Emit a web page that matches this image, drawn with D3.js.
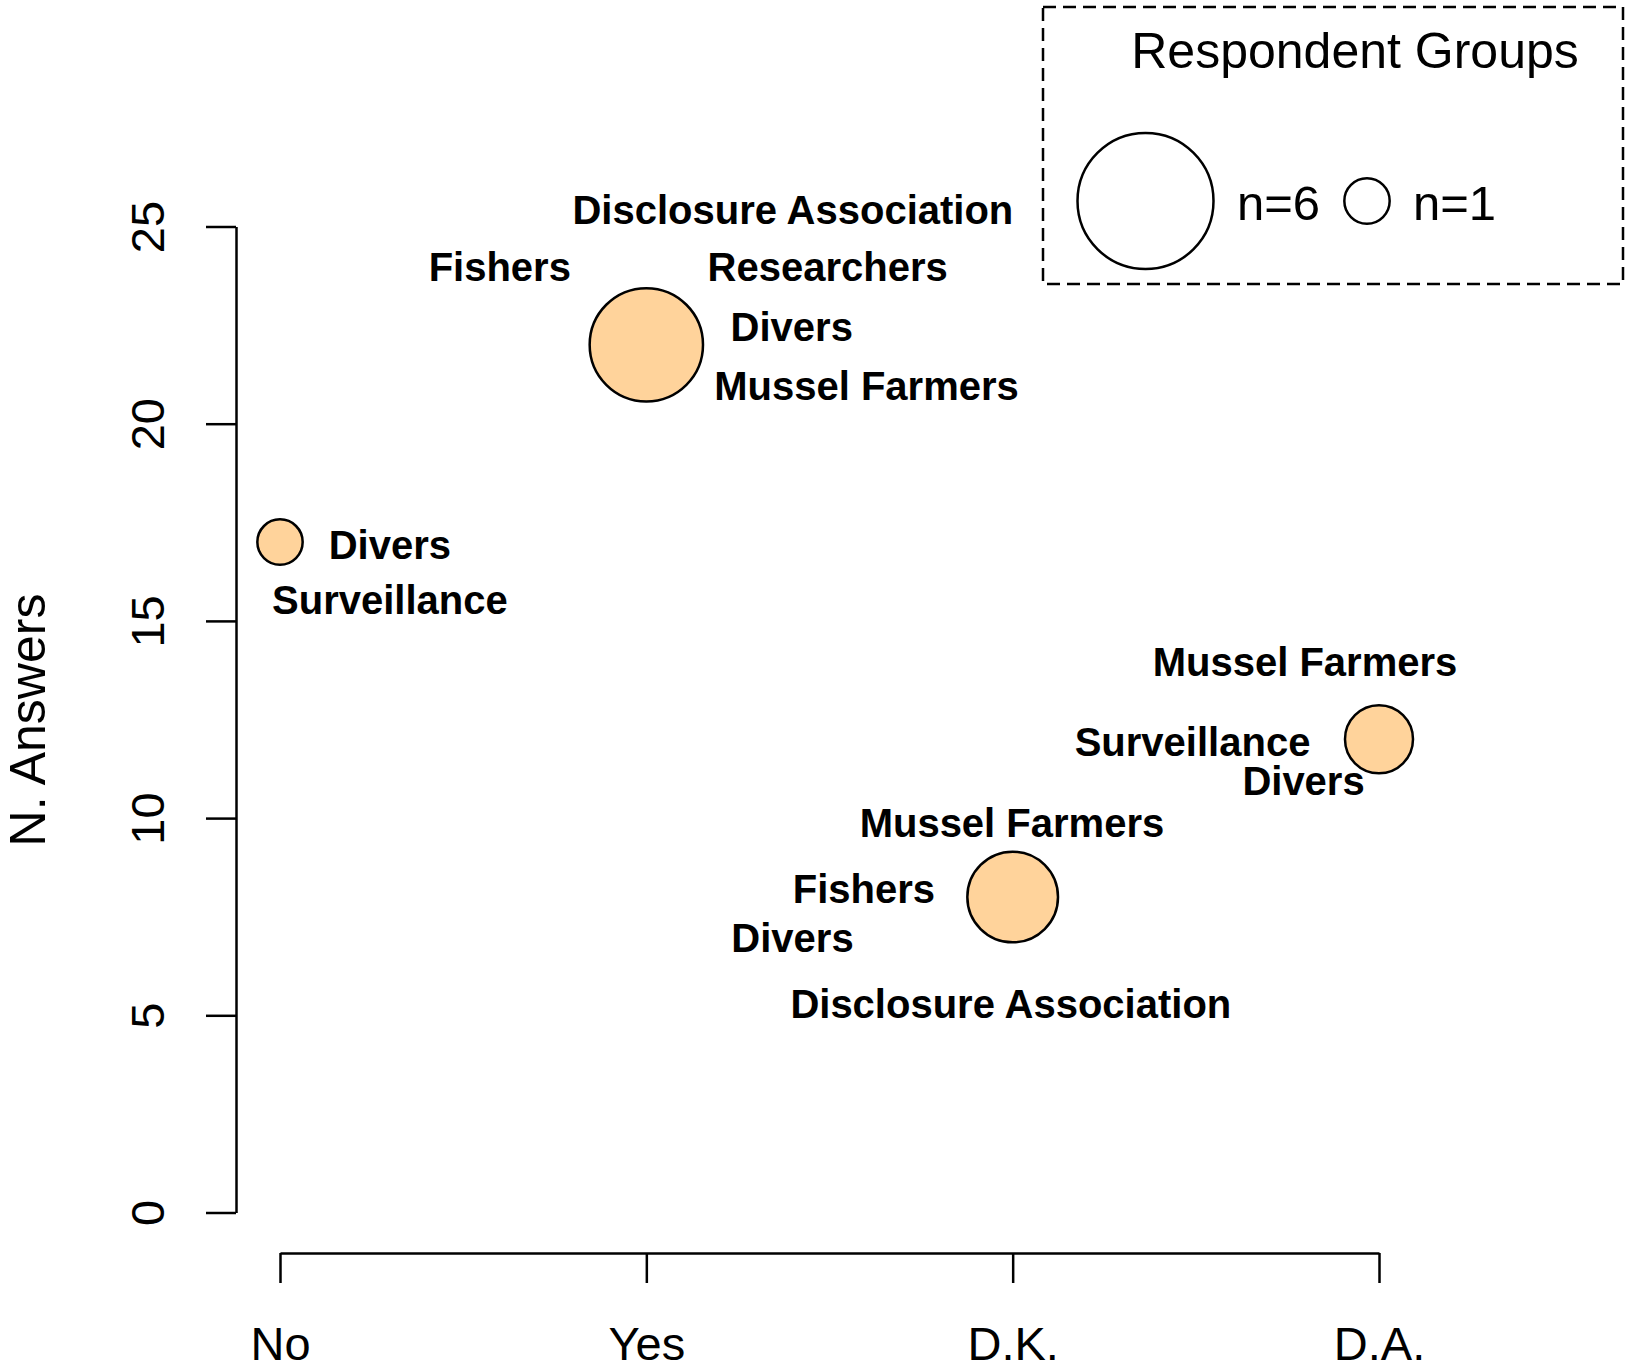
<!DOCTYPE html>
<html lang="en">
<head>
  <meta charset="utf-8" />
  <title>Respondent groups bubble chart</title>
  <script src="https://d3js.org/d3.v7.min.js"></script>
  <style>
    body{margin:0;background:#fff;font-family:"Liberation Sans",Arial,sans-serif;}
    svg{display:block;}
    .axis path,.axis line{stroke:#000;stroke-width:2.5px;}
    .axis text{font-size:47px;fill:#000;font-family:"Liberation Sans",Arial,sans-serif;}
    .lbl{font-size:40px;font-weight:bold;fill:#000;}
  </style>
</head>
<body>
<svg id="chart" width="1629" height="1372"></svg>
<script>
// -------------- DATA --------------
const CATEGORIES=['No','Yes','D.K.','D.A.'];
const ANSWERS=[17,22,8,12];          // N. answers per category
const GROUPS=[2,5,4,3];              // number of respondent groups (bubble size)
const Y_TICKS=[0,5,10,15,20,25];

// group labels, placed in data units (x = category index 1..4, y = answers)
const LABEL_TEXT=[
  'Divers','Surveillance',
  'Disclosure Association','Fishers','Researchers','Divers','Mussel Farmers',
  'Mussel Farmers','Fishers','Divers','Disclosure Association',
  'Mussel Farmers','Surveillance','Divers'
];
const LABEL_X=[1.30,1.30, 2.40,1.60,2.495,2.397,2.601, 2.998,2.594,2.399,2.995, 3.798,3.491,3.794];
const LABEL_Y=[16.93,15.54, 25.44,23.98,23.98,22.47,20.96, 9.89,8.20,6.98,5.29, 13.98,11.95,10.95];

const LEGEND_LABELS=['n=6','n=1'];
const LEGEND_SIZES=[6,2];

// -------------- SCALES --------------
const svg=d3.select('#chart');
const x=d3.scaleLinear().domain([1,4]).range([280,1379]);
const y=d3.scaleLinear().domain([0,25]).range([1212.5,226.5]);
const r=d3.scaleLinear().domain([0,6]).range([0,68]);

// -------------- AXES --------------
const xAxis=svg.append('g').attr('class','axis').attr('transform','translate(0,1253)')
  .call(d3.axisBottom(x).tickValues([1,2,3,4]).tickFormat(d=>CATEGORIES[d-1]).tickSize(30).tickSizeOuter(0));
xAxis.selectAll('text').attr('y',107).attr('dy',null);

const yAxis=svg.append('g').attr('class','axis').attr('transform','translate(236,0)')
  .call(d3.axisLeft(y).tickValues(Y_TICKS).tickSize(30).tickSizeOuter(0));
yAxis.selectAll('text').attr('x',null).attr('dy',null)
  .attr('text-anchor','middle').attr('transform','translate(-72,0) rotate(-90)');

svg.append('text').attr('transform','translate(45,720) rotate(-90)')
  .attr('text-anchor','middle').style('font-size','50px').text('N. Answers');

// -------------- BUBBLES --------------
svg.append('g').selectAll('circle').data(CATEGORIES).enter().append('circle')
  .attr('cx',(d,i)=>x(i+1)).attr('cy',(d,i)=>y(ANSWERS[i])).attr('r',(d,i)=>r(GROUPS[i]))
  .attr('fill','#FFD39B').attr('stroke','#000').attr('stroke-width',2.5);

svg.append('g').selectAll('text').data(LABEL_TEXT).enter().append('text')
  .attr('class','lbl').attr('text-anchor','middle').attr('dy','0.36em')
  .attr('x',(d,i)=>x(LABEL_X[i])).attr('y',(d,i)=>y(LABEL_Y[i])).text(d=>d);

// -------------- LEGEND --------------
const leg=svg.append('g');
leg.append('rect').attr('x',1043).attr('y',7).attr('width',580).attr('height',277)
  .attr('fill','none').attr('stroke','#000').attr('stroke-width',2.5).attr('stroke-dasharray','13,7');
leg.append('text').attr('x',1355).attr('y',68).attr('text-anchor','middle')
  .style('font-size','50px').text('Respondent Groups');
const legX=[1145.5,1367], legTx=[1237,1413];
LEGEND_LABELS.forEach((lab,i)=>{
  leg.append('circle').attr('cx',legX[i]).attr('cy',201).attr('r',r(LEGEND_SIZES[i]))
    .attr('fill','none').attr('stroke','#000').attr('stroke-width',2.5);
  leg.append('text').attr('x',legTx[i]).attr('y',220).style('font-size','49px').text(lab);
});
</script>
</body>
</html>
